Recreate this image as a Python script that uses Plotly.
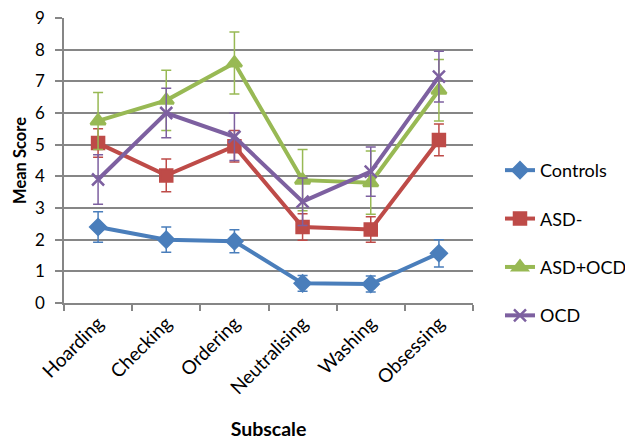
import plotly.graph_objects as go

categories = ["Hoarding", "Checking", "Ordering", "Neutralising", "Washing", "Obsessing"]

controls = [2.4, 2.0, 1.95, 0.62, 0.6, 1.57]
controls_err = [0.48, 0.4, 0.36, 0.25, 0.25, 0.43]

asd_minus = [5.05, 4.03, 4.95, 2.4, 2.32, 5.15]
asd_minus_err = [0.45, 0.52, 0.5, 0.42, 0.4, 0.5]

asd_ocd = [5.75, 6.4, 7.58, 3.88, 3.8, 6.72]
asd_ocd_err = [0.9, 0.95, 0.98, 0.97, 1.0, 0.97]

ocd = [3.9, 6.0, 5.25, 3.2, 4.15, 7.15]
ocd_err = [0.78, 0.78, 0.75, 0.75, 0.78, 0.8]

series = [
    ("Controls", controls, controls_err, "#4A7EBB", "diamond", 12),
    ("ASD-", asd_minus, asd_minus_err, "#BE4B48", "square", 12),
    ("ASD+OCD", asd_ocd, asd_ocd_err, "#98B954", "triangle-up", 13),
    ("OCD", ocd, ocd_err, "#7D60A0", "x-thin", 12),
]

fig = go.Figure()
for i, (name, vals, err, color, sym, size) in enumerate(series):
    fig.add_trace(go.Scatter(
        x=categories, y=vals, name=name, mode="lines+markers",
        line=dict(color=color, width=4),
        marker=dict(symbol=sym, size=size, color=color,
                    line=dict(color=color, width=2.5)),
        error_y=dict(type="data", array=err, visible=True, color=color,
                     thickness=1.5, width=5),
        legendgroup=name,
    ))

font_family = "Lato, 'Open Sans', Arial, sans-serif"

fig.update_layout(
    width=633, height=439,
    margin=dict(l=56, r=168, t=10, b=144, autoexpand=False),
    paper_bgcolor="white", plot_bgcolor="white",
    font=dict(family=font_family, size=18, color="#000000"),
    showlegend=True,
    legend=dict(x=1.066, y=0.53, xanchor="left", yanchor="top",
                font=dict(size=18), tracegroupgap=22,
                bgcolor="rgba(0,0,0,0)"),
    xaxis=dict(
        type="category", tickangle=-45, tickson="boundaries",
        ticks="outside", ticklen=6, tickcolor="#868686", tickwidth=1.5,
        showline=True, linecolor="#868686", linewidth=1.5,
        showgrid=False, tickfont=dict(size=19),
        title=dict(text="<b>Subscale</b>", font=dict(size=19.5), standoff=25),
        range=[-0.5, 5.5], automargin=False,
    ),
    yaxis=dict(
        range=[0, 9], dtick=1, ticks="outside", ticklen=7,
        tickcolor="#868686", tickwidth=1.5, ticklabelstandoff=7,
        ticklabeloverflow="allow",
        showline=True, linecolor="#868686", linewidth=1.5,
        showgrid=True, gridcolor="#868686", gridwidth=1.5,
        zeroline=False, tickfont=dict(size=17),
        title=dict(text="<b>Mean Score</b>", font=dict(size=16.5), standoff=4),
        automargin=False,
    ),
)

fig.write_html("out.html")
